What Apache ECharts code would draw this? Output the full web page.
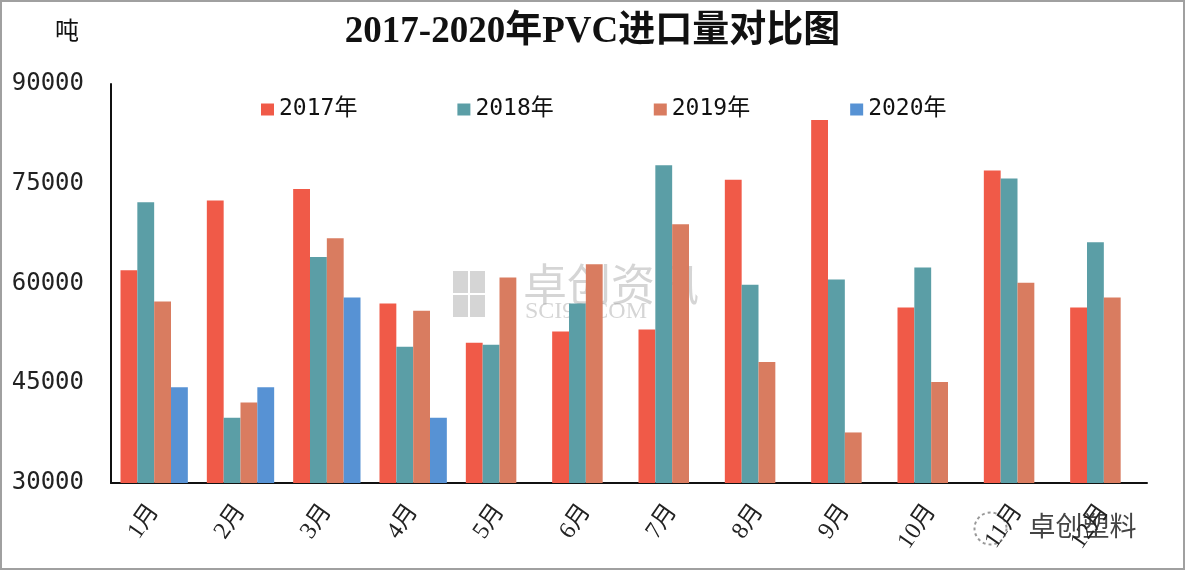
<!DOCTYPE html>
<html>
<head>
<meta charset="utf-8">
<script src="https://cdn.jsdelivr.net/npm/echarts@6/dist/echarts.min.js"></script>
<style>
  html, body { margin: 0; padding: 0; background: #fff; }
  #main { width: 1185px; height: 570px; }
</style>
</head>
<body>
<div id="main"></div>
<script>
// 2017-2020 PVC monthly imports (tons)
var months = ['1月', '2月', '3月', '4月', '5月', '6月', '7月', '8月', '9月', '10月', '11月', '12月'];
var years = ['2017年', '2018年', '2019年', '2020年'];
var v2017 = [62000, 72500, 74200, 57000, 51100, 52800, 53100, 75600, 84600, 56400, 77000, 56400];
var v2018 = [72200, 39800, 64000, 50500, 50800, 57000, 77800, 59800, 60600, 62400, 75800, 66200];
var v2019 = [57300, 42100, 66800, 55900, 60900, 62900, 68900, 48200, 37600, 45200, 60100, 57900];
var v2020 = [44400, 44400, 57900, 39800, null, null, null, null, null, null, null, null];
var colors = ['#F05A48', '#5B9EA6', '#D97C60', '#5792D4'];

var myChart = echarts.init(document.getElementById('main'));

var series = [v2017, v2018, v2019, v2020].map(function (d, i) {
    return {
        name: years[i],
        type: 'bar',
        data: d,
        barGap: '0%',
        barCategoryGap: '22%',
        itemStyle: { color: colors[i] }
    };
});

var wm = 'rgba(150,150,150,0.4)';

option = {
    animation: false,
    backgroundColor: '#fff',
    title: {
        text: '2017-2020年PVC进口量对比图',
        left: 'center',
        top: 9,
        textStyle: {
            fontFamily: 'Liberation Serif, Noto Sans CJK SC',
            fontWeight: 'bold',
            fontSize: 37,
            color: '#111'
        }
    },
    legend: {
        data: years,
        left: 256,
        top: 93,
        itemWidth: 13,
        itemHeight: 12,
        itemGap: 100,
        icon: 'rect',
        textStyle: {
            fontFamily: 'DejaVu Sans Mono, Noto Sans CJK SC',
            fontSize: 23,
            color: '#111'
        }
    },
    grid: {
        left: 111,
        right: 38,
        top: 84,
        bottom: 87,
        outerBoundsMode: 'none'
    },
    xAxis: {
        type: 'category',
        data: months,
        axisLine: { lineStyle: { color: '#111', width: 2 } },
        axisTick: { show: false },
        axisLabel: {
            rotate: 55,
            margin: 24,
            fontFamily: 'Liberation Serif, Noto Sans CJK SC',
            fontSize: 24,
            color: '#222'
        }
    },
    yAxis: {
        type: 'value',
        min: 30000,
        max: 90000,
        interval: 15000,
        axisLine: { show: true, lineStyle: { color: '#111', width: 2 } },
        axisTick: { show: false },
        splitLine: { show: false },
        axisLabel: {
            margin: 27,
            formatter: function (v) { return String(v); },
            fontFamily: 'DejaVu Sans Mono',
            fontSize: 24,
            color: '#222'
        }
    },
    graphic: [
        {
            type: 'rect',
            shape: { x: 1, y: 1, width: 1183, height: 568 },
            style: { fill: null, stroke: '#a0a0a0', lineWidth: 2 },
            silent: true
        },
        {
            type: 'text',
            left: 55,
            top: 18,
            style: { text: '吨', fontFamily: 'Noto Sans CJK SC', fontSize: 24, fill: '#111' }
        },
        {
            type: 'group',
            left: 453,
            top: 262,
            silent: true,
            z: 0,
            children: [
                { type: 'rect', shape: { x: 0, y: 3, width: 15, height: 22 }, style: { fill: wm } },
                { type: 'rect', shape: { x: 17, y: 3, width: 15, height: 22 }, style: { fill: wm } },
                { type: 'rect', shape: { x: 0, y: 27, width: 15, height: 22 }, style: { fill: wm } },
                { type: 'rect', shape: { x: 17, y: 27, width: 15, height: 22 }, style: { fill: wm } },
                { type: 'text', x: 70, y: -6, style: { text: '卓创资讯', fontFamily: 'Noto Sans CJK SC', fontSize: 44, fill: wm } },
                { type: 'text', x: 72, y: 32, style: { text: 'SCI99.COM', fontFamily: 'Liberation Serif', fontSize: 24, fill: wm } }
            ]
        },
        {
            type: 'group',
            left: 972,
            top: 510,
            silent: true,
            children: [
                { type: 'circle', shape: { cx: 20, cy: 18, r: 16 }, style: { fill: null, stroke: '#999', lineWidth: 2, lineDash: [3, 3] } },
                { type: 'text', x: 58, y: 2, style: { text: '卓创塑料', fontFamily: 'Noto Sans CJK SC', fontSize: 27, fill: '#444' } }
            ]
        }
    ],
    series: series
};
myChart.setOption(option);
</script>
</body>
</html>
